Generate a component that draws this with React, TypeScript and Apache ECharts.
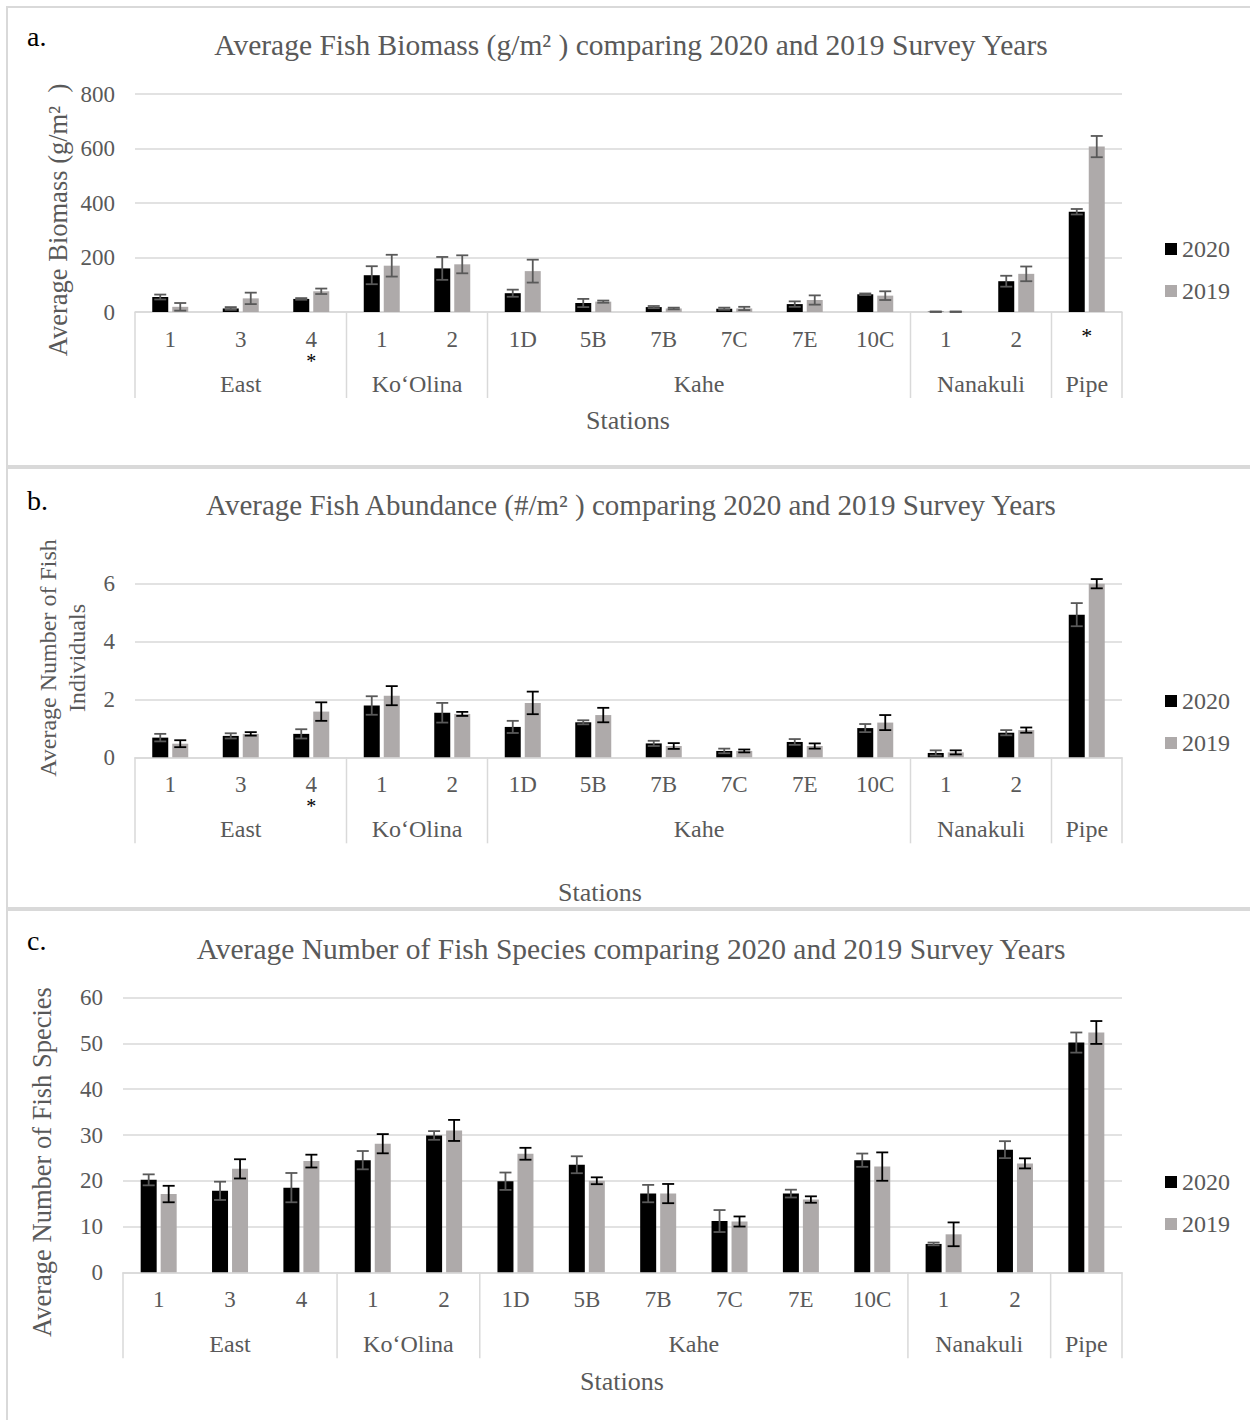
import React, { useEffect, useRef } from 'react';
import * as echarts from 'echarts';

// ---------- data ----------
const stations = ['1', '3', '4', '1', '2', '1D', '5B', '7B', '7C', '7E', '10C', '1', '2', ''];
const groupNames = ['East', 'Ko‘Olina', 'Kahe', 'Nanakuli', 'Pipe'];
const groupSizes = [3, 2, 6, 2, 1];

const biomassMarks = ['', '', '*', '', '', '', '', '', '', '', '', '', '', '*'];
const abundanceMarks = ['', '', '*', '', '', '', '', '', '', '', '', '', '', ''];
const speciesMarks = ['', '', '', '', '', '', '', '', '', '', '', '', '', ''];

const biomass2020 = [55, 13, 48, 135, 160, 69, 33, 18, 12, 29, 65, 1, 113, 368];
const biomass2020Err = [9, 5, 3, 33, 42, 13, 15, 4, 4, 10, 3, 1, 20, 10];
const biomass2019 = [19, 50, 76, 170, 175, 150, 38, 13, 13, 44, 60, 1, 140, 607];
const biomass2019Err = [14, 21, 10, 40, 33, 42, 4, 3, 6, 17, 16, 1, 27, 39];

const abundance2020 = [0.68, 0.74, 0.81, 1.79, 1.54, 1.05, 1.21, 0.48, 0.22, 0.53, 1.01, 0.15, 0.85, 4.93];
const abundance2020Err = [0.13, 0.09, 0.16, 0.32, 0.34, 0.21, 0.07, 0.09, 0.08, 0.1, 0.14, 0.09, 0.09, 0.4];
const abundance2019 = [0.47, 0.81, 1.58, 2.13, 1.5, 1.88, 1.46, 0.39, 0.22, 0.39, 1.2, 0.17, 0.94, 6.0];
const abundance2019Err = [0.12, 0.06, 0.32, 0.33, 0.07, 0.39, 0.25, 0.1, 0.05, 0.09, 0.26, 0.07, 0.09, 0.16];

const species2020 = [20.2, 17.8, 18.5, 24.5, 29.9, 19.9, 23.5, 17.2, 11.2, 17.2, 24.5, 6.2, 26.8, 50.2];
const species2020Err = [1.2, 2.0, 3.2, 2.0, 0.95, 1.9, 1.85, 1.9, 2.4, 0.85, 1.45, 0.3, 1.85, 2.2];
const species2019 = [17.1, 22.6, 24.3, 28.1, 31.0, 25.9, 20.0, 17.2, 11.1, 15.9, 23.1, 8.3, 23.8, 52.4];
const species2019Err = [1.8, 2.1, 1.4, 2.1, 2.3, 1.3, 0.75, 2.1, 1.1, 0.7, 3.1, 2.6, 1.1, 2.5];

const years = ['2020', '2019'];

// ---------- styles ----------
const FONT = 'Liberation Serif';
const GRAY = '#595959';
const LINE = '#d9d9d9';
const C2020 = '#000000';
const C2019 = '#aeaaaa';

const panels = [
  {
    letter: 'a.', letterY: 36,
    title: 'Average Fish Biomass (g/m² ) comparing 2020 and 2019 Survey Years', titleY: 45, titleSize: 29.5,
    yName: 'Average Biomass (g/m²  )', yNameSize: 26.5, yNameX: 58, yNameY: 220,
    xNameX: 628, xNameY: 420,
    v20: biomass2020, e20: biomass2020Err, v19: biomass2019, e19: biomass2019Err,
    marks: biomassMarks, max: 800, interval: 200,
    grid: { left: 135, top: 94, width: 987, height: 218 },
    err19: GRAY, legendTop: 232,
    box: { y: 7, height: 459 },
  },
  {
    letter: 'b.', letterY: 500,
    title: 'Average Fish Abundance (#/m² ) comparing 2020 and 2019 Survey Years', titleY: 505, titleSize: 29,
    yName: 'Average Number of Fish\nIndividuals', yNameSize: 24, yNameX: 62, yNameY: 658,
    xNameX: 600, xNameY: 892,
    v20: abundance2020, e20: abundance2020Err, v19: abundance2019, e19: abundance2019Err,
    marks: abundanceMarks, max: 6, interval: 2,
    grid: { left: 135, top: 583.7, width: 987, height: 173.6 },
    err19: '#000000', legendTop: 684,
    box: { y: 468, height: 440 },
  },
  {
    letter: 'c.', letterY: 940,
    title: 'Average Number of Fish Species comparing 2020 and 2019 Survey Years', titleY: 949, titleSize: 29.5,
    yName: 'Average Number of Fish Species', yNameSize: 26.5, yNameX: 42, yNameY: 1162,
    xNameX: 622, xNameY: 1381,
    v20: species2020, e20: species2020Err, v19: species2019, e19: species2019Err,
    marks: speciesMarks, max: 60, interval: 10,
    grid: { left: 123, top: 997.7, width: 999, height: 274.6 },
    err19: '#000000', legendTop: 1165,
    box: { y: 910, height: 520 },
  },
];

const stationKeys = stations.map((s, i) => `k${i}`);

const groupRanges: number[][] = [];
{
  let start = 0;
  groupSizes.forEach((n) => {
    groupRanges.push([start, start + n - 1, 0]);
    start += n;
  });
}

function makeErr(offset: number, color: string) {
  return (params: any, api: any) => {
    const x = api.value(0);
    const v = api.value(1);
    const e = api.value(2);
    const hi = api.coord([x, v + e]);
    const lo = api.coord([x, Math.max(0, v - e)]);
    const cx = hi[0] + offset;
    const cap = 6;
    const style = { stroke: color, lineWidth: 1.8 };
    return {
      type: 'group',
      children: [
        { type: 'line', shape: { x1: cx, y1: hi[1], x2: cx, y2: lo[1] }, style },
        { type: 'line', shape: { x1: cx - cap, y1: hi[1], x2: cx + cap, y2: hi[1] }, style },
        { type: 'line', shape: { x1: cx - cap, y1: lo[1], x2: cx + cap, y2: lo[1] }, style },
      ],
    };
  };
}

function renderGroup(params: any, api: any) {
  const s = api.value(0);
  const e = api.value(1);
  const bw = api.size([1, 0])[0];
  const p0 = api.coord([s, 0]);
  const p1 = api.coord([e, 0]);
  const left = p0[0] - bw / 2;
  const right = p1[0] + bw / 2;
  const y0 = p0[1];
  const lineStyle = { stroke: LINE, lineWidth: 1.5 };
  const children: any[] = [
    { type: 'line', shape: { x1: left, y1: y0, x2: left, y2: y0 + 86 }, style: lineStyle },
    {
      type: 'text',
      style: {
        text: groupNames[params.dataIndex],
        x: (left + right) / 2,
        y: y0 + 72,
        align: 'center',
        verticalAlign: 'middle',
        fontSize: 24,
        fontFamily: FONT,
        fill: GRAY,
      },
    },
  ];
  if (params.dataIndex === groupRanges.length - 1) {
    children.push({ type: 'line', shape: { x1: right, y1: y0, x2: right, y2: y0 + 86 }, style: lineStyle });
  }
  return { type: 'group', children };
}

function buildOption() {
  const series: any[] = [];
  const graphic: any[] = [];
  panels.forEach((p, i) => {
    series.push(
      {
        type: 'bar', name: years[0], xAxisIndex: i, yAxisIndex: i, data: p.v20,
        barWidth: 16, barGap: '25%', itemStyle: { color: C2020 },
      },
      {
        type: 'bar', name: years[1], xAxisIndex: i, yAxisIndex: i, data: p.v19,
        barWidth: 16, barGap: '25%', itemStyle: { color: C2019 },
      },
      {
        type: 'custom', xAxisIndex: i, yAxisIndex: i, silent: true, z: 10,
        data: p.v20.map((v, k) => [k, v, p.e20[k]]),
        encode: { x: 0, y: 1 },
        renderItem: makeErr(-10, GRAY),
      },
      {
        type: 'custom', xAxisIndex: i, yAxisIndex: i, silent: true, z: 10,
        data: p.v19.map((v, k) => [k, v, p.e19[k]]),
        encode: { x: 0, y: 1 },
        renderItem: makeErr(10, p.err19),
      },
      {
        type: 'custom', xAxisIndex: i, yAxisIndex: i, silent: true,
        data: groupRanges,
        encode: { x: [0, 1], y: 2 },
        renderItem: renderGroup,
      }
    );

    graphic.push(
      {
        type: 'rect', silent: true,
        shape: { x: 7, y: p.box.y, width: 1260, height: p.box.height },
        style: { fill: 'none', stroke: LINE, lineWidth: 2 },
      },
      {
        type: 'text', x: 27, y: p.letterY,
        style: { text: p.letter, fontSize: 28, fontFamily: FONT, fill: '#000', align: 'left', verticalAlign: 'middle' },
      },
      {
        type: 'text', x: 631, y: p.titleY,
        style: { text: p.title, fontSize: p.titleSize, fontFamily: FONT, fill: GRAY, align: 'center', verticalAlign: 'middle' },
      },
      {
        type: 'text', x: p.yNameX, y: p.yNameY, rotation: Math.PI / 2,
        style: {
          text: p.yName, fontSize: p.yNameSize, lineHeight: 29, fontFamily: FONT, fill: GRAY,
          align: 'center', verticalAlign: 'middle',
        },
      },
      {
        type: 'text', x: p.xNameX, y: p.xNameY,
        style: { text: 'Stations', fontSize: 26, fontFamily: FONT, fill: GRAY, align: 'center', verticalAlign: 'middle' },
      }
    );
  });

  return {
    animation: false,
    textStyle: { fontFamily: FONT },
    grid: panels.map((p) => ({ ...p.grid })),
    xAxis: panels.map((p, i) => ({
      type: 'category',
      gridIndex: i,
      data: stationKeys,
      axisLine: { lineStyle: { color: LINE, width: 1.5 } },
      axisTick: { show: false },
      splitLine: { show: false },
      axisLabel: {
        interval: 0,
        margin: 16,
        fontFamily: FONT,
        formatter: (_v: string, idx: number) => {
          const s = stations[idx];
          const m = p.marks[idx];
          if (m && s) return `{n|${s}}\n{s|${m}}`;
          if (m) return `{t|${m}}`;
          return `{n|${s}}`;
        },
        rich: {
          n: { fontSize: 23, color: GRAY, lineHeight: 23, fontFamily: FONT },
          s: { fontSize: 20, color: '#000', lineHeight: 20, fontFamily: FONT },
          t: { fontSize: 22, color: '#000', lineHeight: 14, fontFamily: FONT },
        },
      },
    })),
    yAxis: panels.map((p, i) => ({
      type: 'value',
      gridIndex: i,
      min: 0,
      max: p.max,
      interval: p.interval,
      axisLine: { show: false },
      axisTick: { show: false },
      splitLine: { lineStyle: { color: LINE, width: 1.5 } },
      axisLabel: { fontSize: 23, color: GRAY, margin: 20, fontFamily: FONT },
    })),
    legend: panels.map((p) => ({
      data: years,
      orient: 'vertical',
      left: 1160,
      top: p.legendTop,
      itemWidth: 12,
      itemHeight: 12,
      itemGap: 18,
      icon: 'rect',
      selectedMode: false,
      textStyle: { fontSize: 24, color: GRAY, fontFamily: FONT },
    })),
    series,
    graphic,
  };
}

export default function App() {
  const ref = useRef<HTMLDivElement>(null);
  useEffect(() => {
    if (!ref.current) return;
    const chart = echarts.init(ref.current, null, { renderer: 'svg' });
    chart.setOption(buildOption() as any);
    return () => chart.dispose();
  }, []);
  return (
    <div
      ref={ref}
      style={{ position: 'absolute', left: 0, top: 0, width: 1250, height: 1420, background: '#fff' }}
    />
  );
}
